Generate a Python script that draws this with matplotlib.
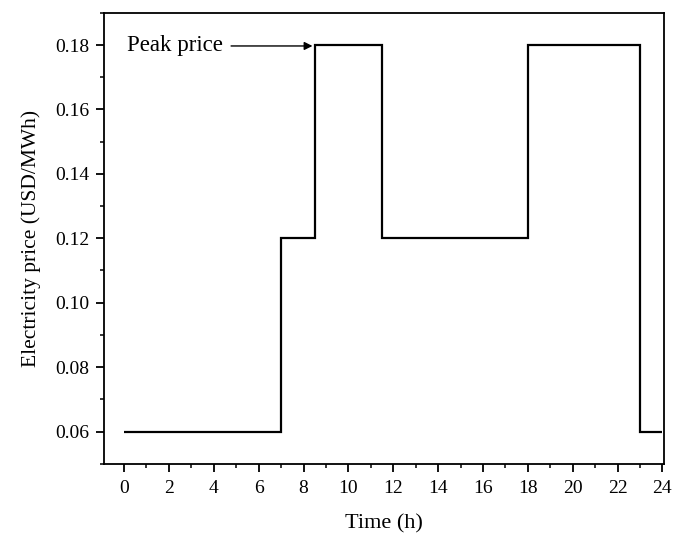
import numpy as np
import matplotlib.pyplot as plt

plt.rcParams['font.family'] = ['Liberation Serif', 'DejaVu Serif']

# step edges (h) and price for each interval
edges = [0, 7, 8.5, 11.5, 18, 23, 24]
price = [0.06, 0.12, 0.18, 0.12, 0.18, 0.06]

fig = plt.figure(figsize=(6.73, 5.33), dpi=100)
ax = fig.add_axes([0.155, 0.130, 0.8316, 0.846])

ax.stairs(price, edges, baseline=None, color='black', linewidth=1.6)

ax.set_xlim(-0.88, 24.07)
ax.set_ylim(0.05, 0.19)
ax.set_xticks(np.arange(0, 25, 2))
ax.set_xticks(np.arange(1, 24, 2), minor=True)
ax.set_yticks([0.06, 0.08, 0.10, 0.12, 0.14, 0.16, 0.18])
ax.set_yticks(np.arange(0.05, 0.19, 0.01), minor=True)
ax.set_yticklabels(['%.2f' % v for v in ax.get_yticks()])

ax.tick_params(which='major', direction='out', length=6, width=1.3, labelsize=14, pad=5)
ax.tick_params(axis='x', which='major', pad=6)
ax.tick_params(which='minor', direction='out', length=3, width=1.1)
for s in ax.spines.values():
    s.set_linewidth(1.3)

ax.set_xlabel('Time (h)', fontsize=16, labelpad=12)
ax.set_ylabel('Electricity price (USD/MWh)', fontsize=15.5, labelpad=10)

ax.annotate('Peak price', xy=(8.4, 0.1797), xytext=(4.4, 0.1797),
            fontsize=16.5, ha='right', va='center',
            arrowprops=dict(arrowstyle='-|>', color='black', lw=1.0,
                            mutation_scale=12, shrinkA=4, shrinkB=0))

plt.savefig('out.png', dpi=100)
